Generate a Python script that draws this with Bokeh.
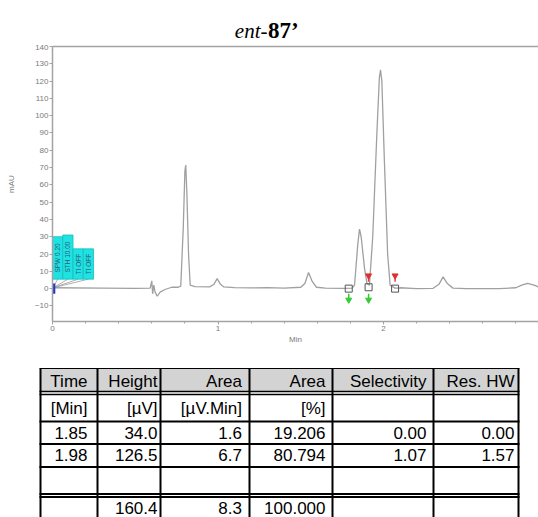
from bokeh.plotting import figure
from bokeh.layouts import column
from bokeh.models import Range1d, LinearAxis, FixedTicker
from bokeh.core.properties import value
from bokeh.embed import file_html
from bokeh.resources import INLINE
import math

# ---------------- data ----------------
title_italic = "ent-"
title_bold = "87\u2019"

time_min = [0.00, 0.30, 0.50, 0.590, 0.600, 0.605, 0.612, 0.620, 0.633, 0.650, 0.680,
            0.720, 0.760, 0.775, 0.790, 0.800, 0.805, 0.812, 0.822, 0.832, 0.860,
            0.950, 0.975, 0.995, 1.015, 1.035, 1.100, 1.200, 1.300, 1.400, 1.500,
            1.525, 1.547, 1.570, 1.595, 1.650, 1.750, 1.810, 1.825, 1.845, 1.855,
            1.865, 1.885, 1.900, 1.915, 1.935, 1.960, 1.975, 1.982, 1.990, 2.005,
            2.025, 2.040, 2.070, 2.100, 2.200, 2.300, 2.335, 2.360, 2.385, 2.420,
            2.500, 2.600, 2.700, 2.800, 2.835, 2.870, 2.910, 2.940]
signal_mau = [0.5, 0.3, 0.2, 0.3, 4.5, -3.0, 2.0, -2.0, -4.4, -2.0, -0.5,
              0.8, 0.8, 1.5, 35.0, 68.0, 71.5, 55.0, 20.0, 2.0, 1.2,
              1.0, 2.5, 5.8, 2.5, 1.0, 0.6, 0.4, 0.6, 0.3, 0.8,
              3.0, 9.3, 4.0, 0.8, 0.3, 0.2, 0.3, 2.0, 26.0, 34.4,
              30.0, 12.0, 3.0, 2.0, 30.0, 90.0, 122.0, 126.5, 120.0, 75.0,
              20.0, 2.0, 0.3, 0.5, 0.0, 0.2, 2.5, 6.8, 3.0, 0.3,
              0.0, 0.0, 0.0, 0.5, 2.0, 3.0, 2.0, 0.8]

event_labels = ["SPW 0.20", "STH 10.00", "TI OFF", "TI OFF"]
event_tops = [30.0, 31.0, 23.0, 23.0]

baseline_marks_t = [1.79, 1.91, 2.07]
baseline_marks_y = [0.0, 0.8, 0.0]
peak_start_t = [1.79, 1.91]
peak_end_t = [1.91, 2.07]

y_ticks = [-10, 0, 10, 20, 30, 40, 50, 60, 70, 80, 90, 100, 110, 120, 130, 140]
x_ticks = [0, 1, 2]
x_minor = [0.2, 0.4, 0.6, 0.8, 1.2, 1.4, 1.6, 1.8, 2.2, 2.4, 2.6, 2.8]

table_header = ["Time", "Height", "Area", "Area", "Selectivity", "Res. HW"]
table_units = ["[Min]", "[\u00b5V]", "[\u00b5V.Min]", "[%]", "", ""]
ret_time = ["1.85", "1.98"]
height_uv = ["34.0", "126.5"]
area_uvmin = ["1.6", "6.7"]
area_pct = ["19.206", "80.794"]
selectivity = ["0.00", "1.07"]
res_hw = ["0.00", "1.57"]
total_row = ["", "160.4", "8.3", "100.000", "", ""]

# ---------------- layout constants ----------------
W = 538
GREY = "#a3a3a3"
LBL = "#7a7a7a"

# ---------------- title ----------------
pt = figure(width=W, height=44, x_range=Range1d(0, W), y_range=Range1d(44, 0),
            output_backend="svg", toolbar_location=None, min_border=0, frame_align=False)
pt.axis.visible = False
pt.grid.visible = False
pt.outline_line_color = None
pt.text(x=[267], y=[30.5], text=[title_italic], text_font=value("Liberation Serif"),
        text_font_style="italic", text_font_size="21px", text_align="right",
        text_baseline="middle", text_color="black")
pt.text(x=[267.5], y=[30], text=[title_bold], text_font=value("Liberation Serif"),
        text_font_style="bold", text_font_size="23px", text_align="left",
        text_baseline="middle", text_color="black")

# ---------------- chromatogram ----------------
x_end = (538 - 52) / 165.5
p = figure(width=W, height=311, x_range=Range1d(0, x_end), y_range=Range1d(-19, 140),
           output_backend="svg", toolbar_location=None, frame_align=False,
           min_border_left=52, min_border_right=0, min_border_top=2, min_border_bottom=34,
           x_axis_label="Min", y_axis_label="mAU")
p.grid.visible = False
p.outline_line_color = None
p.background_fill_color = "white"

for ax in (p.xaxis[0], p.yaxis[0]):
    ax.axis_line_color = GREY
    ax.axis_line_width = 1.5
    ax.major_tick_line_color = GREY
    ax.minor_tick_line_color = GREY
    ax.major_tick_in = 0
    ax.major_tick_out = 3
    ax.minor_tick_in = 0
    ax.minor_tick_out = 2
    ax.major_label_text_font = "Liberation Sans"
    ax.major_label_text_font_size = "8px"
    ax.major_label_text_color = LBL
    ax.axis_label_text_font = "Liberation Sans"
    ax.axis_label_text_font_size = "8px"
    ax.axis_label_text_font_style = "normal"
    ax.axis_label_text_color = LBL
    ax.major_label_standoff = 1

p.yaxis[0].ticker = FixedTicker(ticks=y_ticks)
p.yaxis[0].minor_tick_line_color = None
p.yaxis[0].axis_label_standoff = 16
p.xaxis[0].ticker = FixedTicker(ticks=x_ticks, minor_ticks=x_minor)
p.xaxis[0].axis_label_standoff = 1

top_ax = LinearAxis(ticker=FixedTicker(ticks=[]), major_label_text_font_size="0px",
                    major_tick_line_color=None, minor_tick_line_color=None,
                    axis_line_color=GREY, axis_line_width=1.5,
                    major_label_standoff=0)
p.add_layout(top_ax, "above")

# trace
p.line(time_min, signal_mau, line_color="#a0a0a0", line_width=1.3)

# event boxes at start
bw = 0.062
lefts = [i * bw for i in range(len(event_labels))]
rights = [l + bw for l in lefts]
centers = [l + bw / 2 for l in lefts]
p.segment(x0=centers, y0=[5.5] * 4, x1=[0.004] * 4, y1=[0.5] * 4,
          line_color="#9a9a9a", line_width=0.8)
p.quad(left=lefts, right=rights, bottom=[5.5] * 4, top=event_tops,
       fill_color="#1fe3e3", line_color="#16bcbc", line_width=0.8)
p.text(x=centers, y=[(5.5 + t) / 2 for t in event_tops], text=event_labels,
       angle=math.pi / 2, text_align="center", text_baseline="middle",
       text_font=value("Liberation Sans"), text_font_size="6.5px", text_color="#2a5a78")
p.segment(x0=[0.008], y0=[-3.0], x1=[0.008], y1=[3.0], line_color="#2a35c8", line_width=3)

# baseline markers
p.scatter(baseline_marks_t, baseline_marks_y, marker="square", size=7,
          fill_color=None, line_color="#555555", line_width=1)
p.segment(x0=peak_end_t, y0=[4.0] * 2, x1=peak_end_t, y1=[7.0] * 2,
          line_color="#e04040", line_width=1.5)
p.scatter(peak_end_t, [7.5] * 2, marker="inverted_triangle", size=6,
          fill_color="#e03030", line_color="#e03030")
p.segment(x0=peak_start_t, y0=[-3.0] * 2, x1=peak_start_t, y1=[-6.0] * 2,
          line_color="#33cc33", line_width=1.5)
p.scatter(peak_start_t, [-6.5] * 2, marker="inverted_triangle", size=6,
          fill_color="#33cc33", line_color="#33cc33")

# ---------------- table ----------------
tb = figure(width=W, height=162, x_range=Range1d(0, W), y_range=Range1d(517, 355),
            output_backend="svg", toolbar_location=None, min_border=0, frame_align=False)
tb.axis.visible = False
tb.grid.visible = False
tb.outline_line_color = None

col_edges = [40, 97, 160, 249, 332, 433, 518]
pads = [10, 3, 7.5, 7, 7, 4]
tb.quad(left=[40], right=[518], top=[368], bottom=[391], fill_color="#d3d3d3", line_color=None)

h_lines = [368, 391, 394, 421, 443.5, 466.5, 493.5, 496.5]
h_widths = [1.2, 1.5, 1.5, 2, 2, 2, 2, 2]
tb.segment(x0=[39] * len(h_lines), y0=h_lines, x1=[519] * len(h_lines), y1=h_lines,
           line_color="black", line_width=h_widths)
tb.segment(x0=col_edges, y0=[368] * len(col_edges), x1=col_edges, y1=[530] * len(col_edges),
           line_color="black", line_width=2)

rows = [table_header, table_units,
        [ret_time[0], height_uv[0], area_uvmin[0], area_pct[0], selectivity[0], res_hw[0]],
        [ret_time[1], height_uv[1], area_uvmin[1], area_pct[1], selectivity[1], res_hw[1]],
        ["", "", "", "", "", ""],
        total_row]
centers_y = [380.5, 408, 432, 454, 480, 507]
xs, ys, ts = [], [], []
for r, row in enumerate(rows):
    for c, txt in enumerate(row):
        if txt:
            xs.append(col_edges[c + 1] - pads[c])
            ys.append(centers_y[r])
            ts.append(txt)
tb.text(x=xs, y=ys, text=ts, text_align="right", text_baseline="middle",
        text_font=value("Liberation Sans"), text_font_size="17px", text_color="black")

layout = column(pt, p, tb, spacing=0)
open("out.html", "w").write(file_html(layout, INLINE))
